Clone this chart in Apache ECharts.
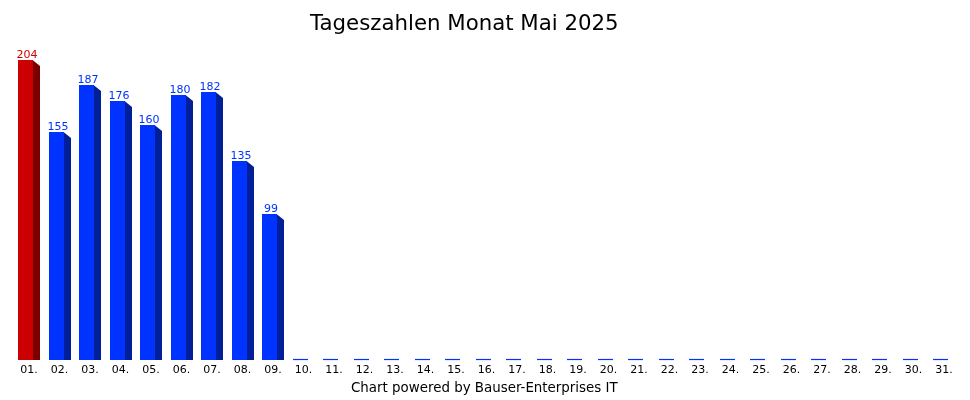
<!DOCTYPE html>
<html><head><meta charset="utf-8">
<script src="https://cdn.jsdelivr.net/npm/echarts@6/dist/echarts.min.js"></script>
<style>html,body{margin:0;padding:0;background:#fff}#c{width:970px;height:400px}</style>
</head><body><div id="c"></div>
<script>
const titleText = 'Tageszahlen Monat Mai 2025';
const footerText = 'Chart powered by Bauser-Enterprises IT';
const days = ['01.','02.','03.','04.','05.','06.','07.','08.','09.','10.','11.','12.','13.','14.','15.','16.','17.','18.','19.','20.','21.','22.','23.','24.','25.','26.','27.','28.','29.','30.','31.'];
const counts = [204,155,187,176,160,180,182,135,99,0,0,0,0,0,0,0,0,0,0,0,0,0,0,0,0,0,0,0,0,0,0];
const highlightIndex = [0];

const FONT = '"DejaVu Sans", Verdana, sans-serif';
const chart = echarts.init(document.getElementById('c'));
chart.setOption({
  animation: false,
  title: [
    {text: titleText, left: 305, top: 9, textStyle: {fontFamily: FONT, fontSize: 21.3, fontWeight: 'normal', color: '#000'}},
    {text: footerText, left: 346, top: 377, textStyle: {fontFamily: FONT, fontSize: 13.4, fontWeight: 'normal', color: '#000'}}
  ],
  grid: {left: 13.75, right: 10.75, top: 60, bottom: 40},
  xAxis: {
    type: 'category', data: days,
    axisLine: {show: false}, axisTick: {show: false},
    axisLabel: {fontFamily: FONT, fontSize: 11, color: '#000', margin: 5, interval: 0}
  },
  yAxis: {type: 'value', min: 0, max: 'dataMax', show: false, splitLine: {show: false}},
  series: [{
    type: 'custom',
    data: counts.map((v, i) => [i, v]),
    renderItem: function (params, api) {
      const i = api.value(0), v = api.value(1);
      const top = api.coord([i, v]);
      const base = api.coord([i, 0]);
      const cx = top[0];
      const hi = highlightIndex.indexOf(i) >= 0;
      const front = hi ? '#cc0000' : '#0033ff';
      const side = hi ? '#7a0000' : '#001f99';
      const by = Math.round(base[1]), ty = Math.round(top[1]);
      const x0 = Math.round(cx - 11);
      if (v <= 0) {
        return {type: 'line', shape: {x1: x0, y1: by - 0.5, x2: x0 + 15, y2: by - 0.5}, style: {stroke: front, lineWidth: 1.2}};
      }
      return {
        type: 'group',
        children: [
          {type: 'polygon', shape: {points: [[x0 + 14.5, ty], [x0 + 22, ty + 6], [x0 + 22, by], [x0 + 14.5, by]]}, style: {fill: side}},
          {type: 'rect', shape: {x: x0, y: ty, width: 15, height: by - ty}, style: {fill: front}},
          {type: 'text', x: x0 + 9, y: ty + 1, style: {text: String(v), fill: front, font: '11px ' + FONT, textAlign: 'center', textVerticalAlign: 'bottom'}}
        ]
      };
    }
  }]
});
</script></body></html>
